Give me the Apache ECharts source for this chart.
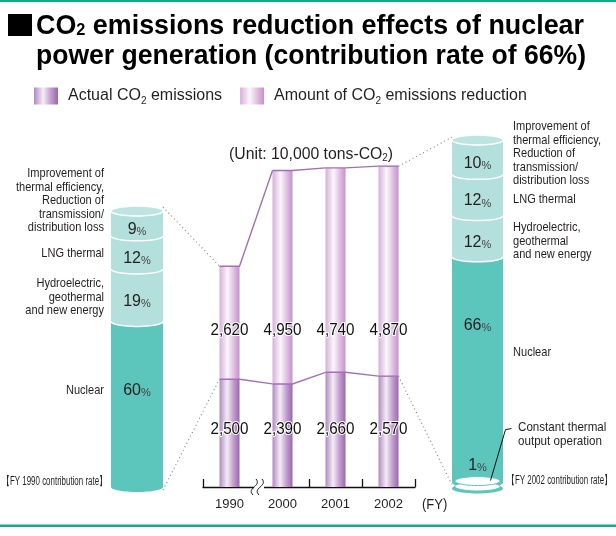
<!DOCTYPE html>
<html><head><meta charset="utf-8">
<script src="https://cdn.jsdelivr.net/npm/echarts@6/dist/echarts.min.js"></script>
<style>html,body{margin:0;padding:0;background:#fff}#c{width:616px;height:536px}</style>
</head><body><div id="c"></div>
<script>
// ---------- data ----------
const years = ['1990', '2000', '2001', '2002'];
const actualEmissions = [2500, 2390, 2660, 2570];
const emissionsReduction = [2620, 4950, 4740, 4870];
const sources1990 = ['Nuclear', 'Hydroelectric, geothermal and new energy', 'LNG thermal',
  'Improvement of thermal efficiency, Reduction of transmission/distribution loss'];
const rate1990 = [60, 19, 12, 9];
const sources2002 = ['Constant thermal output operation', 'Nuclear', 'Hydroelectric, geothermal and new energy',
  'LNG thermal', 'Improvement of thermal efficiency, Reduction of transmission/distribution loss'];
const rate2002 = [1, 66, 12, 12, 10];

// ---------- helpers ----------
const FONT = '"Liberation Sans", Arial, Helvetica, sans-serif';
const TXT = '#231f20';
const DARK = '#5cc5bc', LIGHT = '#b3dfdc', CAP = '#bde4e1';
const mctx = document.createElement('canvas').getContext('2d');
function fnt(size, weight) { return (weight || 'normal') + ' ' + size + 'px ' + FONT; }
function measure(text, font) {
  mctx.font = font;
  return Math.max.apply(null, text.split('\n').map(l => mctx.measureText(l).width));
}
function txt(x, y, text, o) {
  o = o || {};
  const size = o.size || 13;
  const sx = o.width ? o.width / measure(text, fnt(size, o.weight)) : (o.sx || 1);
  return { type: 'text', x: x, y: y, scaleX: sx, silent: true,
    style: { text: text, x: 0, y: 0, fontSize: size, fontFamily: FONT, fontWeight: o.weight || 'normal',
      fill: o.color || TXT, align: o.align || 'left', verticalAlign: o.va || 'middle',
      lineHeight: o.lh || Math.round(size * 1.1) } };
}
function richLine(x, y, segs, targetW) {
  let off = 0; const children = [];
  segs.forEach(s => {
    const w = measure(s[0], fnt(s[1], s[2]));
    children.push({ type: 'text', x: off, y: s[3] || 0, silent: true,
      style: { text: s[0], x: 0, y: 0, fontSize: s[1], fontWeight: s[2] || 'normal', fontFamily: FONT,
        fill: s[4] || TXT, align: 'left', verticalAlign: 'middle' } });
    off += w;
  });
  return { type: 'group', x: x, y: y, scaleX: targetW ? targetW / off : 1, children: children };
}
function ellipsePts(cx, cy, rx, ry, a0, a1, n) {
  const pts = [];
  for (let k = 0; k <= n; k++) { const t = a0 + (a1 - a0) * k / n; pts.push([cx + rx * Math.cos(t), cy + ry * Math.sin(t)]); }
  return pts;
}
const fmt = v => v.toLocaleString('en-US');
const displayName = {
  'Improvement of thermal efficiency, Reduction of transmission/distribution loss':
    'Improvement of\nthermal efficiency,\nReduction of\ntransmission/\ndistribution loss',
  'Hydroelectric, geothermal and new energy': 'Hydroelectric,\ngeothermal\nand new energy',
  'LNG thermal': 'LNG thermal',
  'Nuclear': 'Nuclear',
  'Constant thermal output operation': 'Constant thermal\noutput operation'
};

// ---------- cylinders ----------
function cylinderSeries(idx, names, rates) {
  const data = []; let acc = 0;
  rates.forEach(r => { data.push([0, acc, acc + r, r]); acc += r; });
  return {
    type: 'custom', name: 'cyl' + idx, xAxisIndex: idx, yAxisIndex: idx, data: data, z: 3,
    encode: { x: 0, y: [1, 2] }, silent: true,
    renderItem: function (params, api) {
      const i = params.dataIndex;
      const name = names[i];
      const top = api.coord([0, api.value(2)]), bot = api.coord([0, api.value(1)]);
      const w = api.size([1, 0])[0];
      const cx = top[0], rx = w / 2, ry = 5, yT = top[1], yB = bot[1];
      const isTop = i === rates.length - 1;
      const isDisc = name === 'Constant thermal output operation';
      const fill = name === 'Nuclear' ? DARK : LIGHT;
      const ch = [];
      let labelY;
      if (isDisc) {
        ch.push({ type: 'polygon', z2: 10, shape: { points: ellipsePts(cx, yB + 1.5, rx, ry, 0, 2 * Math.PI, 48) }, style: { fill: DARK } });
        ch.push({ type: 'polygon', z2: 11, shape: { points: ellipsePts(cx, yB - 0.5, rx - 3, ry - 0.5, 0, 2 * Math.PI, 48) }, style: { fill: '#fff', stroke: DARK, lineWidth: 1 } });
        ch.push({ type: 'polygon', z2: 12, shape: { points: ellipsePts(cx, yT - 2.5, rx - 3, ry - 0.5, 0, 2 * Math.PI, 48) }, style: { fill: '#fff', stroke: DARK, lineWidth: 1 } });
        ch.push({ type: 'polyline', z2: 13, shape: { points: [[cx + 13, yT - 3], [cx + 28, yT - 54], [cx + 34, yT - 55]] }, style: { stroke: '#111', lineWidth: 1, fill: 'none' } });
        labelY = yT - 19;
      } else {
        const pts = [[cx - rx, yT], [cx + rx, yT]].concat(ellipsePts(cx, yB, rx, ry, 0, Math.PI, 32));
        ch.push({ type: 'polygon', shape: { points: pts }, style: { fill: fill } });
        if (i > 0) ch.push({ type: 'polyline', shape: { points: ellipsePts(cx, yB, rx, ry, 0, Math.PI, 32) }, style: { stroke: '#fff', lineWidth: 1.5, fill: 'none' } });
        if (isTop) ch.push({ type: 'polygon', shape: { points: ellipsePts(cx, yT, rx, ry, 0, 2 * Math.PI, 48) }, style: { fill: CAP, stroke: '#fff', lineWidth: 1.5 } });
        const h = yB - yT;
        labelY = yT + Math.min(h / 2 + 5, 68);
      }
      ch.push({ type: 'text', z2: 20, x: cx, y: labelY,
        style: { text: '{n|' + api.value(3) + '}{p|%}', x: 0, y: 0, align: 'center', verticalAlign: 'middle',
          rich: { n: { fontSize: 16, fontFamily: FONT, fill: TXT, lineHeight: 18, verticalAlign: 'bottom' },
                  p: { fontSize: 11, fontFamily: FONT, fill: '#444', lineHeight: 14, verticalAlign: 'bottom' } } } });
      return { type: 'group', children: ch };
    }
  };
}

// ---------- main chart ----------
const gradActual = { type: 'linear', x: 0, y: 0, x2: 1, y2: 0, colorStops: [
  { offset: 0, color: '#b189c2' }, { offset: 0.38, color: '#f4edf6' }, { offset: 0.7, color: '#c29ece' }, { offset: 1, color: '#9a67ad' }] };
const gradReduce = { type: 'linear', x: 0, y: 0, x2: 1, y2: 0, colorStops: [
  { offset: 0, color: '#d6b0da' }, { offset: 0.4, color: '#fbf6fb' }, { offset: 0.75, color: '#dcb9df' }, { offset: 1, color: '#c592ca' }] };

const mainData = years.map((y, i) => [i, actualEmissions[i], actualEmissions[i] + emissionsReduction[i], emissionsReduction[i]]);

const connectorSeries = {
  type: 'custom', name: 'connectors', xAxisIndex: 0, yAxisIndex: 0, z: 4, silent: true,
  data: mainData, encode: { x: 0, y: [1, 2] },
  renderItem: function (params, api) {
    const i = params.dataIndex, n = years.length, half = 10;
    const ch = [];
    [1, 2].forEach(dim => {
      const p = api.coord([i, api.value(dim)]);
      const pts = [[p[0] - half, p[1]], [p[0] + half, p[1]]];
      if (i < n - 1) {
        const nv = dim === 1 ? actualEmissions[i + 1] : actualEmissions[i + 1] + emissionsReduction[i + 1];
        const q = api.coord([i + 1, nv]);
        pts.push([q[0] - half, q[1]]);
      }
      ch.push({ type: 'polyline', shape: { points: pts }, style: { stroke: '#a46fb6', lineWidth: 1.4, fill: 'none' } });
    });
    const base = api.coord([i, 0]);
    ch.push({ type: 'text', x: base[0], y: base[1] - 156, scaleX: 0.95,
      style: { text: fmt(api.value(3)), x: 0, y: 0, align: 'center', verticalAlign: 'middle', fontSize: 16, fontFamily: FONT,
        fill: '#111', stroke: '#fff', lineWidth: 2 } });
    ch.push({ type: 'text', x: base[0], y: base[1] - 57, scaleX: 0.95,
      style: { text: fmt(api.value(1)), x: 0, y: 0, align: 'center', verticalAlign: 'middle', fontSize: 16, fontFamily: FONT,
        fill: '#111', stroke: '#fff', lineWidth: 2 } });
    if (i === 0) {
      const bnd = (api.coord([0, 0])[0] + api.coord([1, 0])[0]) / 2;
      const bx = bnd + 2, by = base[1];
      ch.push({ type: 'rect', shape: { x: bnd - 2, y: by - 10, width: 10, height: 13 }, style: { fill: '#fff' } });
      [-3, 3].forEach(d => ch.push({ type: 'bezierCurve',
        shape: { x1: bx + d - 2, y1: by + 8, cpx1: bx + d - 9, cpy1: by + 1, cpx2: bx + d + 7, cpy2: by - 1, x2: bx + d + 1, y2: by - 8 },
        style: { stroke: '#111', lineWidth: 1, fill: 'none' } }));
    }
    return { type: 'group', children: ch };
  }
};

// ---------- static graphics ----------
const leftPos = { 'Improvement of thermal efficiency, Reduction of transmission/distribution loss': 167, 'LNG thermal': 247,
  'Hydroelectric, geothermal and new energy': 277, 'Nuclear': 384 };
const rightPos = { 'Improvement of thermal efficiency, Reduction of transmission/distribution loss': 120, 'LNG thermal': 193,
  'Hydroelectric, geothermal and new energy': 221, 'Nuclear': 346 };

function staticGraphics() {
  const g = [];
  g.push({ type: 'rect', silent: true, shape: { x: 0, y: 0, width: 616, height: 2 }, style: { fill: '#15a98a' } });
  g.push({ type: 'rect', silent: true, shape: { x: 0, y: 524.5, width: 616, height: 2.5 }, style: { fill: '#15a98a' } });
  g.push({ type: 'rect', silent: true, shape: { x: 8, y: 14, width: 24, height: 22 }, style: { fill: '#000' } });
  g.push(richLine(36, 26, [['CO', 28, 'bold', 0, '#000'], ['2', 17, 'bold', 4, '#000'], [' emissions reduction effects of nuclear', 28, 'bold', 0, '#000']], 548));
  g.push(richLine(36, 56, [['power generation (contribution rate of 66%)', 28, 'bold', 0, '#000']], 550));
  g.push(richLine(229, 155, [['(Unit: 10,000 tons-CO', 16], ['2', 10, 'normal', 3], [')', 16]], 164));
  sources1990.forEach(s => g.push(txt(104, leftPos[s], displayName[s], { size: 13, sx: 0.85, align: 'right', va: 'top', lh: 13.5 })));
  sources2002.forEach(s => {
    if (s === 'Constant thermal output operation') g.push(txt(518, 421, displayName[s], { size: 13.5, sx: 0.86, va: 'top', lh: 13.5 }));
    else g.push(txt(513, rightPos[s], displayName[s], { size: 13, sx: 0.85, va: 'top', lh: 13.5 }));
  });
  g.push(txt(107, 482, '【FY 1990 contribution rate】', { size: 12, width: 105, align: 'right' }));
  g.push(txt(507, 481, '【FY 2002 contribution rate】', { size: 12, width: 105 }));
  g.push(txt(422, 505, '(FY)', { size: 14, sx: 0.93 }));
  return g;
}

const option = {
  animation: false,
  backgroundColor: '#fff',
  legend: {
    left: 34, top: 86, padding: 0, itemWidth: 24, itemHeight: 17, itemGap: 18, icon: 'rect', selectedMode: false,
    data: ['Actual CO2 emissions', 'Amount of CO2 emissions reduction'],
    formatter: name => name.replace('CO2', 'CO{s|2}'),
    textStyle: { fontSize: 16, fontFamily: FONT, color: TXT, lineHeight: 20, padding: [0, 0, 0, 5],
      rich: { s: { fontSize: 10, fontFamily: FONT, color: TXT, lineHeight: 14, verticalAlign: 'bottom' } } }
  },
  grid: [
    { left: 203, width: 212, top: 142, height: 345 },
    { left: 111, width: 52, top: 211, height: 276 },
    { left: 452, width: 51, top: 140, height: 347 }
  ],
  xAxis: [
    { type: 'category', gridIndex: 0, data: years, boundaryGap: true,
      axisLine: { lineStyle: { color: '#111', width: 1.3 } },
      axisTick: { show: true, inside: true, length: 8, interval: 0, lineStyle: { color: '#111', width: 1.3 } },
      axisLabel: { fontSize: 13, fontFamily: FONT, color: TXT, margin: 11 } },
    { type: 'category', gridIndex: 1, data: ['FY 1990'], show: false },
    { type: 'category', gridIndex: 2, data: ['FY 2002'], show: false }
  ],
  yAxis: [
    { type: 'value', gridIndex: 0, min: 0, max: 8000, show: false },
    { type: 'value', gridIndex: 1, min: 0, max: 100, show: false },
    { type: 'value', gridIndex: 2, min: 0, max: 101, show: false }
  ],
  series: [
    { type: 'bar', name: 'Actual CO2 emissions', stack: 'e', xAxisIndex: 0, yAxisIndex: 0, barWidth: 20,
      data: actualEmissions, itemStyle: { color: gradActual }, silent: true },
    { type: 'bar', name: 'Amount of CO2 emissions reduction', stack: 'e', xAxisIndex: 0, yAxisIndex: 0, barWidth: 20,
      data: emissionsReduction, itemStyle: { color: gradReduce }, silent: true },
    connectorSeries,
    cylinderSeries(1, sources1990, rate1990),
    cylinderSeries(2, sources2002, rate2002)
  ],
  graphic: staticGraphics()
};

const chart = echarts.init(document.getElementById('c'), null, { renderer: 'canvas' });
chart.setOption(option);

// dotted leader lines computed from the rendered scales
const tot = years.map((y, i) => actualEmissions[i] + emissionsReduction[i]);
const last = years.length - 1;
const lTop = chart.convertToPixel({ gridIndex: 1 }, [0, 100]);
const lBot = chart.convertToPixel({ gridIndex: 1 }, [0, 0]);
const rTop = chart.convertToPixel({ gridIndex: 2 }, [0, 101]);
const rBot = chart.convertToPixel({ gridIndex: 2 }, [0, 0]);
const b0T = chart.convertToPixel({ gridIndex: 0 }, [0, tot[0]]);
const b0A = chart.convertToPixel({ gridIndex: 0 }, [0, actualEmissions[0]]);
const bLT = chart.convertToPixel({ gridIndex: 0 }, [last, tot[last]]);
const bLA = chart.convertToPixel({ gridIndex: 0 }, [last, actualEmissions[last]]);
const dot = (a, b) => ({ type: 'line', silent: true, shape: { x1: a[0], y1: a[1], x2: b[0], y2: b[1] },
  style: { stroke: '#8a8a8a', lineWidth: 1.2, lineDash: [1, 3] } });
const g2 = staticGraphics().concat([
  dot([lTop[0] + 26, lTop[1] - 4], [b0T[0] - 10, b0T[1]]),
  dot([lBot[0] + 26, lBot[1] + 3], [b0A[0] - 10, b0A[1]]),
  dot([bLT[0] + 10, bLT[1]], [rTop[0] - 25, rTop[1] - 3]),
  dot([bLA[0] + 10, bLA[1]], [rBot[0] - 23, rBot[1] + 3])
]);
chart.setOption({ graphic: g2 });
</script>
</body></html>
